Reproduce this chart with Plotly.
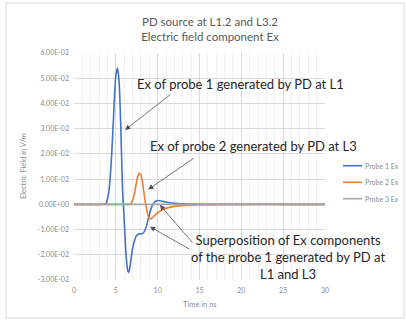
import plotly.graph_objects as go

time_ns = [0, 3.5, 3.8, 4.0, 4.2, 4.4, 4.6, 4.8, 5.0, 5.2, 5.4, 5.6, 5.8, 6.0, 6.2, 6.4, 6.5, 6.6,
           6.8, 7.0, 7.2, 7.4, 7.6, 7.8, 8.0, 8.2, 8.4, 8.6, 8.8, 9.0, 9.2, 9.4, 9.6, 9.8, 10.0,
           10.3, 10.6, 11.0, 11.5, 12, 13, 14, 16, 20, 25, 30]

probe1 = [0, 0, 0.0003, 0.002, 0.006, 0.014, 0.026, 0.040, 0.051, 0.054, 0.048, 0.030, 0.006,
          -0.006, -0.019, -0.026, -0.027, -0.0265, -0.022, -0.0175, -0.0148, -0.0128, -0.0120,
          -0.0117, -0.0117, -0.0115, -0.0108, -0.0093, -0.0068, -0.0042, -0.0018, -0.0002,
          0.0008, 0.0013, 0.0015, 0.0014, 0.0012, 0.0009, 0.0006, 0.0004, 0.0002, 0.0001, 0, 0, 0, 0]

probe2 = [0, 0, 0, 0, 0, 0, 0, 0, 0, 0, 0, 0, 0, 0, 0, 0, 0, 0,
          0.0003, 0.0015, 0.004, 0.0075, 0.0108, 0.0123, 0.0118, 0.0085, 0.0035, -0.0005,
          -0.0038, -0.0055, -0.0057, -0.0052, -0.0045, -0.0039, -0.0034, -0.0027, -0.0021,
          -0.0016, -0.0011, -0.0008, -0.0004, -0.0002, -0.0001, 0, 0, 0]

probe3 = [0] * len(time_ns)

series_names = ["Probe 1 Ex", "Probe 2 Ex", "Probe 3 Ex"]
series_colors = ["#4472C4", "#ED7D31", "#A5A5A5"]
y_ticks = [-0.03, -0.02, -0.01, 0, 0.01, 0.02, 0.03, 0.04, 0.05, 0.06]
y_tick_labels = ["-3.00E-02", "-2.00E-02", "-1.00E-02", "0.00E+00", "1.00E-02",
                 "2.00E-02", "3.00E-02", "4.00E-02", "5.00E-02", "6.00E-02"]

FONT = "Lato"
L, R, T, B, W, H = 74, 81, 53, 40, 406, 320
PW, PH = W - L - R, H - T - B


def px(xp):
    return (xp - L) / PW


def py(yp):
    return (H - B - yp) / PH


fig = go.Figure()
for name, vals, col in zip(series_names, [probe1, probe2, probe3], series_colors):
    fig.add_trace(go.Scatter(x=time_ns, y=vals, mode="lines", name=name,
                             line=dict(color=col, width=1.6, shape="spline", smoothing=0.6),
                             showlegend=False))

# manual legend
leg_y = [165.7, 182.3, 198.7]
for name, col, ly in zip(series_names, series_colors, leg_y):
    fig.add_shape(type="line", xref="paper", yref="paper", x0=px(343), x1=px(362), y0=py(ly), y1=py(ly),
                  line=dict(color=col, width=1.6))
    fig.add_annotation(xref="paper", yref="paper", x=px(363), y=py(ly), text=name, showarrow=False,
                       xanchor="left", yanchor="middle", font=dict(family=FONT, size=7, color="#8c8c8c"))

# outer chart border
fig.add_shape(type="rect", xref="paper", yref="paper", x0=px(6), x1=px(404), y0=py(318), y1=py(3),
              line=dict(color="#d9d9d9", width=1))

txt = dict(family=FONT, size=13, color="#262626")
fig.add_annotation(xref="paper", yref="paper", x=px(240), y=py(84), xanchor="center", yanchor="middle",
                   text="Ex of probe 1 generated by PD at L1", showarrow=False, font=txt)
fig.add_annotation(xref="paper", yref="paper", x=px(253), y=py(146), xanchor="center", yanchor="middle",
                   text="Ex of probe 2 generated by PD at L3", showarrow=False, font=txt)
fig.add_annotation(xref="paper", yref="paper", x=px(288), y=py(257), xanchor="center", yanchor="middle",
                   text="Superposition of Ex components<br>of the probe 1 generated by PD at<br>L1 and L3",
                   showarrow=False, font=txt)

# axis titles as annotations
fig.add_annotation(xref="paper", yref="paper", x=px(23), y=py(166), xanchor="center", yanchor="middle",
                   text="Electric Field in V/m", textangle=-90, showarrow=False,
                   font=dict(family=FONT, size=7.5, color="#8c8c8c"))
fig.add_annotation(xref="paper", yref="paper", x=px(200), y=py(304), xanchor="center", yanchor="middle",
                   text="Time in ns", showarrow=False,
                   font=dict(family=FONT, size=7.5, color="#8c8c8c"))

arrows = [  # (head_t, head_v, tail_t, tail_v)
    (6.1, 0.0295, 11.7, 0.044),
    (8.87, 0.0059, 14.5, 0.0187),
    (10.27, -0.0003, 14.3, -0.0157),
    (9.08, -0.0089, 13.98, -0.0181),
]
for ht, hv, tt, tv in arrows:
    fig.add_annotation(x=ht, y=hv, ax=tt, ay=tv, xref="x", yref="y", axref="x", ayref="y",
                       text="", showarrow=True, arrowhead=2, arrowsize=1.3, arrowwidth=0.8,
                       arrowcolor="#505050")

fig.update_layout(
    width=W, height=H,
    margin=dict(l=L, r=R, t=T, b=B),
    paper_bgcolor="white", plot_bgcolor="white",
    title=dict(text="PD source at L1.2 and L3.2<br>Electric field component Ex",
               x=210 / W, xanchor="center", y=1 - 26 / H, yanchor="middle",
               font=dict(family=FONT, size=11.5, color="#595959")),
    xaxis=dict(range=[0, 30], tickvals=[0, 5, 10, 15, 20, 25, 30], ticks="",
               showgrid=True, gridcolor="#d9d9d9", gridwidth=1,
               minor=dict(dtick=1, showgrid=True, gridcolor="#f0f0f0", gridwidth=1),
               zeroline=False, showline=False, ticklabelstandoff=5,
               tickfont=dict(family=FONT, size=7, color="#8c8c8c")),
    yaxis=dict(range=[-0.03, 0.06], tickvals=y_ticks, ticktext=y_tick_labels, ticks="",
               showgrid=True, gridcolor="#d9d9d9", gridwidth=1, zeroline=False, showline=False,
               ticklabelstandoff=4,
               tickfont=dict(family=FONT, size=7, color="#8c8c8c")),
)

fig.write_html("out.html")
